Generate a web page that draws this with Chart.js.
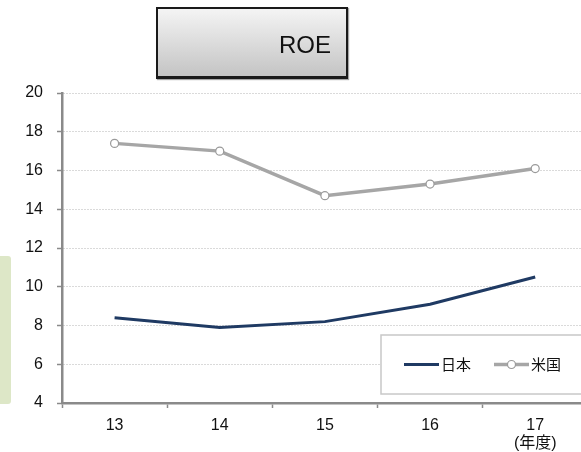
<!DOCTYPE html>
<html>
<head>
<meta charset="utf-8">
<script src="https://cdn.jsdelivr.net/npm/chart.js@4"></script>
<style>
  body { margin: 0; overflow: hidden; background: #fff; width: 581px; height: 452px; position: relative; }
  #wrap { position: absolute; left: 0; top: 0; width: 593px; height: 452px; }
  .title {
    position: absolute; left: 156px; top: 7px; width: 188px; height: 67px;
    border: 2px solid #1a1a1a;
    border-bottom-width: 3px;
    background: linear-gradient(#f4f4f4, #c4c4c4);
    box-shadow: 1px 1px 1px rgba(0,0,0,0.35);
    font: 24px "Liberation Sans", Arial, sans-serif; color: #111;
  }
  .title span { position: absolute; left: 121px; top: 22px; }
  .tab {
    position: absolute; left: 0; top: 256px; width: 11px; height: 148px;
    background: #dde7c7; border-radius: 0 3px 3px 0;
  }
</style>
</head>
<body>
<div class="tab"></div>
<div id="wrap"><canvas id="roe" width="593" height="452"></canvas></div>
<div class="title"><span>ROE</span></div>
<script>
var years = [['13'], ['14'], ['15'], ['16'], ['17', '(年度)']];
var japan = [8.4, 7.9, 8.2, 9.1, 10.5];
var usa = [17.4, 17.0, 14.7, 15.3, 16.1];
var seriesNames = ['日本', '米国'];

var FONT = '"Liberation Sans", Arial, "Noto Sans CJK JP", sans-serif';

// legend box in the lower right corner of the plot
var boxLegend = {
    id: 'boxLegend',
    afterDraw: function(chart) {
        var ctx = chart.ctx;
        var x = 381, y = 335, w = 210, h = 59;
        ctx.save();
        ctx.fillStyle = '#fff';
        ctx.fillRect(x, y, w, h);
        ctx.strokeStyle = '#c8c8c8';
        ctx.lineWidth = 1.5;
        ctx.strokeRect(x, y, w, h);

        var cy = y + h / 2;
        var starts = [404, 494];
        ctx.font = '15px ' + FONT;
        ctx.textBaseline = 'middle';
        chart.data.datasets.forEach(function(ds, i) {
            var lx = starts[i];
            ctx.beginPath();
            ctx.strokeStyle = ds.borderColor;
            ctx.lineWidth = ds.borderWidth;
            ctx.moveTo(lx, cy);
            ctx.lineTo(lx + 35, cy);
            ctx.stroke();
            if (ds.pointRadius > 0) {
                ctx.beginPath();
                ctx.arc(lx + 17.5, cy, ds.pointRadius, 0, 2 * Math.PI);
                ctx.fillStyle = ds.pointBackgroundColor;
                ctx.fill();
                ctx.lineWidth = ds.pointBorderWidth;
                ctx.strokeStyle = ds.pointBorderColor;
                ctx.stroke();
            }
            ctx.fillStyle = '#111';
            ctx.fillText(ds.label, lx + 37, cy + 1);
        });
        ctx.restore();
    }
};

new Chart(document.getElementById('roe'), {
    type: 'line',
    data: {
        labels: years,
        datasets: [
            {
                label: seriesNames[0],
                data: japan,
                borderColor: '#1f3a63',
                borderWidth: 3,
                pointRadius: 0,
                tension: 0
            },
            {
                label: seriesNames[1],
                data: usa,
                borderColor: '#a6a6a6',
                borderWidth: 3.5,
                pointRadius: 4,
                pointBackgroundColor: '#fff',
                pointBorderColor: '#9a9a9a',
                pointBorderWidth: 1.2,
                tension: 0
            }
        ]
    },
    options: {
        responsive: false,
        animation: false,
        layout: { padding: { top: 93, left: 0, right: 0, bottom: 0 } },
        plugins: {
            legend: { display: false },
            tooltip: { enabled: false }
        },
        scales: {
            x: {
                offset: true,
                grid: {
                    offset: true,
                    drawOnChartArea: false,
                    tickLength: 5,
                    tickColor: '#8a8a8a',
                    tickWidth: 1.5
                },
                border: { color: '#8a8a8a', width: 2.5 },
                ticks: {
                    color: '#111',
                    padding: 8,
                    font: { family: FONT, size: 16, lineHeight: 1.15 },
                    maxRotation: 0,
                    autoSkip: false
                },
                afterFit: function(scale) { scale.height = 49; }
            },
            y: {
                min: 4,
                max: 20,
                ticks: {
                    stepSize: 2,
                    color: '#111',
                    padding: 14,
                    font: { family: FONT, size: 16 }
                },
                grid: {
                    color: '#b4b4b4',
                    lineWidth: 1,
                    tickLength: 5,
                    tickColor: '#8a8a8a',
                    tickWidth: 1.5
                },
                border: { color: '#8a8a8a', width: 2.5, dash: [1, 2] },
                afterFit: function(scale) { scale.width = 62; }
            }
        }
    },
    plugins: [boxLegend]
});
</script>
</body>
</html>
